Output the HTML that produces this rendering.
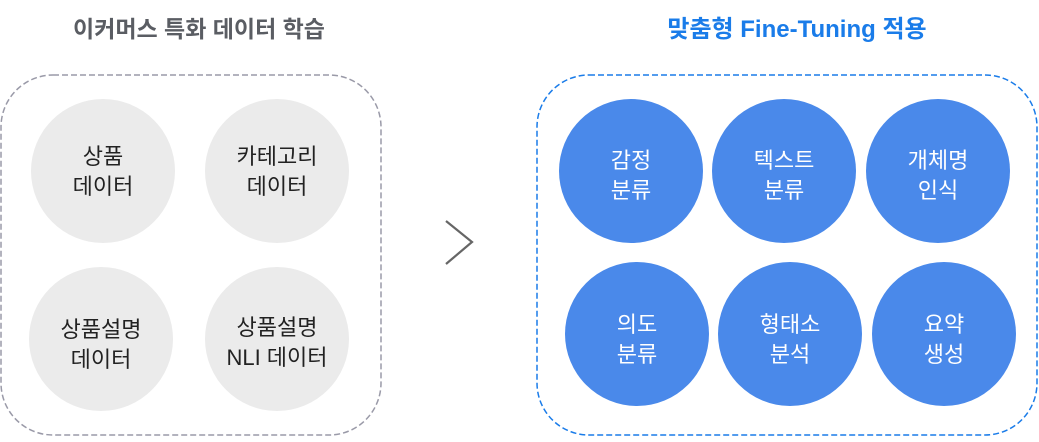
<!DOCTYPE html>
<html><head><meta charset="utf-8"><style>
body{margin:0;background:#fff;width:1039px;height:437px;overflow:hidden}
</style></head><body>
<svg width="1039" height="437" xmlns="http://www.w3.org/2000/svg" font-family="'Liberation Sans','Noto Sans CJK KR',sans-serif">
<text x="199" y="37" text-anchor="middle" font-size="23" font-weight="bold" fill="#5a5d63">이커머스 특화 데이터 학습</text>
<text x="797" y="37" text-anchor="middle" font-size="24" font-weight="bold" fill="#1a7ce9">맞춤형 Fine-Tuning 적용</text>
<rect x="1" y="75" width="380" height="360" rx="52" fill="none" stroke="#9a9aa8" stroke-width="1.5" stroke-dasharray="6,3"/>
<rect x="537" y="75" width="500" height="360" rx="52" fill="none" stroke="#1a7ce9" stroke-width="1.5" stroke-dasharray="6,3"/>
<g fill="#ebebeb">
<circle cx="103" cy="171" r="72"/><circle cx="277" cy="171" r="72"/>
<circle cx="101" cy="339" r="72"/><circle cx="277" cy="339" r="72"/>
</g>
<g font-size="22" fill="#222" text-anchor="middle">
<text x="103" y="164">상품</text><text x="103" y="194">데이터</text>
<text x="277" y="164">카테고리</text><text x="277" y="194">데이터</text>
<text x="101" y="337">상품설명</text><text x="101" y="367">데이터</text>
<text x="277" y="335">상품설명</text><text x="277" y="365">NLI 데이터</text>
</g>
<polyline points="446,221 472,242 446,264" fill="none" stroke="#666" stroke-width="2.2"/>
<g fill="#4a89ea">
<circle cx="631" cy="171" r="72"/><circle cx="784" cy="171" r="72"/><circle cx="938" cy="171" r="72"/>
<circle cx="637" cy="334" r="72"/><circle cx="790" cy="334" r="72"/><circle cx="944" cy="334" r="72"/>
</g>
<g font-size="22" fill="#fff" text-anchor="middle">
<text x="631" y="168">감정</text><text x="631" y="198">분류</text>
<text x="784" y="168">텍스트</text><text x="784" y="198">분류</text>
<text x="938" y="168">개체명</text><text x="938" y="198">인식</text>
<text x="637" y="332">의도</text><text x="637" y="362">분류</text>
<text x="790" y="332">형태소</text><text x="790" y="362">분석</text>
<text x="944" y="332">요약</text><text x="944" y="362">생성</text>
</g>
</svg>
</body></html>
